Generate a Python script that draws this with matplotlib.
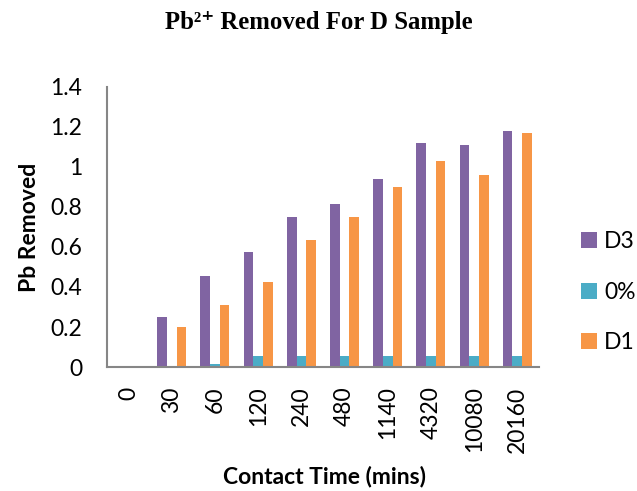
import matplotlib
matplotlib.use("Agg")
import matplotlib.pyplot as plt
import numpy as np

categories = ["0", "30", "60", "120", "240", "480", "1140", "4320", "10080", "20160"]
d3 = [0, 0.25, 0.455, 0.577, 0.748, 0.817, 0.938, 1.12, 1.108, 1.18]
zero_pct = [0, 0, 0.013, 0.053, 0.053, 0.053, 0.053, 0.053, 0.053, 0.053]
d1 = [0, 0.20, 0.31, 0.427, 0.637, 0.748, 0.898, 1.028, 0.958, 1.17]
series_names = ["D3", "0%", "D1"]
colors = ["#8064A2", "#4BACC6", "#F79646"]
yticks = [0, 0.2, 0.4, 0.6, 0.8, 1, 1.2, 1.4]
ytick_labels = ["0", "0.2", "0.4", "0.6", "0.8", "1", "1.2", "1.4"]

sans = ["Lato", "DejaVu Sans"]
fs = 16.5
fig = plt.figure(figsize=(6.37, 4.91), dpi=100)
ax = fig.add_axes([0.168, 0.2525, 0.678, 0.5705])

x = np.arange(len(categories))
w = 0.224
handles = []
for i, (vals, c, n) in enumerate(zip([d3, zero_pct, d1], colors, series_names)):
    h = ax.bar(x + (i - 1) * w, vals, width=w, color=c, label=n, edgecolor="none")
    handles.append(h)

ax.set_xlim(-0.5, len(categories) - 0.5)
ax.set_ylim(0, 1.4)
ax.set_yticks(yticks)
ax.set_yticklabels(ytick_labels, fontfamily=sans, fontsize=fs)
ax.set_xticks(x)
ax.set_xticklabels(categories, rotation=90, fontfamily=sans, fontsize=fs)
ax.tick_params(axis="x", length=0, pad=14)
ax.tick_params(axis="y", length=0, pad=18)
for s in ["top", "right"]:
    ax.spines[s].set_visible(False)
for s in ["left", "bottom"]:
    ax.spines[s].set_color("#868686")
    ax.spines[s].set_linewidth(1.5)

fig.text(0.047, 0.536, "Pb Removed", ha="center", va="center", rotation=90,
         fontfamily=sans, fontsize=fs, fontweight="bold")
fig.text(0.51, 0.029, "Contact Time (mins)", ha="center", va="center",
         fontfamily=sans, fontsize=fs, fontweight="bold")
fig.text(0.5, 0.955, "Pb²⁺ Removed For D Sample", ha="center", va="center",
         fontfamily=["Liberation Serif", "DejaVu Serif"], fontsize=17.8, fontweight="bold")

leg = fig.legend(handles=handles, labels=series_names, loc="center left",
                 bbox_to_anchor=(0.898, 0.405), frameon=False,
                 prop={"family": sans, "size": fs}, handlelength=0.7, handleheight=0.7,
                 labelspacing=1.3, handletextpad=0.3, borderaxespad=0)
fig.savefig("out.png", dpi=100)
